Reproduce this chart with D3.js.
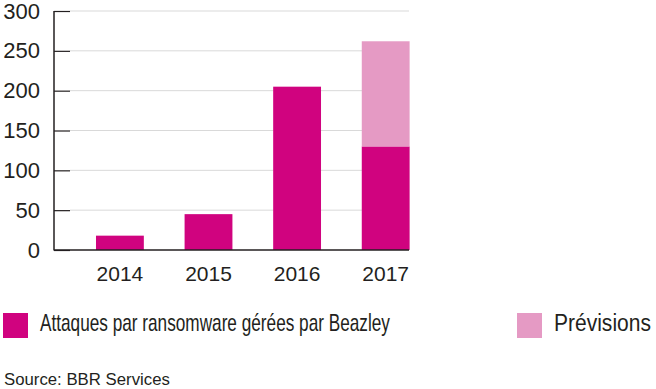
<!DOCTYPE html>
<html>
<head>
<meta charset="utf-8">
<script src="https://cdn.jsdelivr.net/npm/d3@7"></script>
<style>
  body { margin: 0; background: #fff; }
  text { font-family: "Liberation Sans", Arial, sans-serif; fill: #231f20; }
</style>
</head>
<body>
<svg id="chart" width="656" height="389"></svg>
<script>
const years = ["2014", "2015", "2016", "2017"];
const attaques = [18, 45, 205, 130];
const previsions = [0, 0, 0, 132];
const yTicks = [0, 50, 100, 150, 200, 250, 300];
const legendLabels = ["Attaques par ransomware gérées par Beazley", "Prévisions"];
const colors = ["#d0037f", "#e59ac4"];

const svg = d3.select("#chart");
const plotLeft = 54, plotBottom = 250, plotTop = 11, gridEnd = 409;

const x = d3.scaleBand().domain(years)
  .range([plotLeft, 451.6]).paddingInner(0.46).paddingOuter(0.474);
const y = d3.scaleLinear().domain([0, 300]).range([plotBottom, plotTop]);

// squeeze a text horizontally to a given width (the source font is condensed)
function fitWidth(sel, w) {
  sel.each(function () {
    const t = d3.select(this);
    const n = this.getComputedTextLength();
    const x0 = +t.attr("x") || 0, y0 = +t.attr("y") || 0;
    t.attr("x", 0).attr("y", 0)
      .attr("transform", "translate(" + x0 + "," + y0 + ") scale(" + (w / n) + ",1)");
  });
}

// grid lines
svg.append("g")
  .selectAll("line")
  .data(yTicks.filter(d => d > 0))
  .join("line")
  .attr("x1", plotLeft + 16).attr("x2", gridEnd)
  .attr("y1", d => y(d)).attr("y2", d => y(d))
  .attr("stroke", "#d9d9d9").attr("stroke-width", 1);

// stacked bars
const rows = years.map((yr, i) => ({year: yr, a: attaques[i], p: previsions[i]}));
const stack = d3.stack().keys(["a", "p"])(rows);

svg.append("g")
  .selectAll("g")
  .data(stack)
  .join("g")
  .attr("fill", (d, i) => colors[i])
  .selectAll("rect")
  .data(d => d)
  .join("rect")
  .attr("x", d => x(d.data.year))
  .attr("width", x.bandwidth())
  .attr("y", d => y(d[1]))
  .attr("height", d => y(d[0]) - y(d[1]));

// y axis
const yAxis = svg.append("g")
  .attr("transform", "translate(" + plotLeft + ",0)")
  .call(d3.axisLeft(y).tickValues(yTicks).tickSize(-16).tickPadding(14));
yAxis.select(".domain").remove();
yAxis.selectAll(".tick line").attr("stroke", "#231f20").attr("stroke-width", 1.2);
yAxis.selectAll(".tick text")
  .attr("font-size", 22).attr("fill", "#231f20")
  .attr("font-family", "Liberation Sans, Arial, sans-serif");

svg.append("line")
  .attr("x1", plotLeft).attr("x2", plotLeft).attr("y1", plotTop).attr("y2", plotBottom + 0.5)
  .attr("stroke", "#231f20").attr("stroke-width", 1.5);

// x axis
const xAxis = svg.append("g")
  .attr("transform", "translate(0," + plotBottom + ")")
  .call(d3.axisBottom(x).tickSize(0).tickPadding(16));
xAxis.select(".domain").remove();
xAxis.selectAll(".tick text")
  .attr("font-size", 21).attr("fill", "#231f20")
  .attr("font-family", "Liberation Sans, Arial, sans-serif");
svg.append("line")
  .attr("x1", plotLeft).attr("x2", gridEnd).attr("y1", plotBottom).attr("y2", plotBottom)
  .attr("stroke", "#231f20").attr("stroke-width", 1.5);

// legend
const legendX = [3, 517];
const legendW = [350, 97];
const lg = svg.append("g").selectAll("g")
  .data(legendLabels)
  .join("g")
  .attr("transform", (d, i) => "translate(" + legendX[i] + ",313)");
lg.append("rect").attr("width", 25).attr("height", 25).attr("fill", (d, i) => colors[i]);
lg.append("text")
  .attr("x", 37).attr("y", 18)
  .attr("font-size", 24)
  .text(d => d)
  .each(function (d, i) { fitWidth(d3.select(this), legendW[i]); });

svg.append("text")
  .attr("x", 4).attr("y", 385)
  .attr("font-size", 17)
  .text("Source: BBR Services")
  .call(fitWidth, 166);
</script>
</body>
</html>
